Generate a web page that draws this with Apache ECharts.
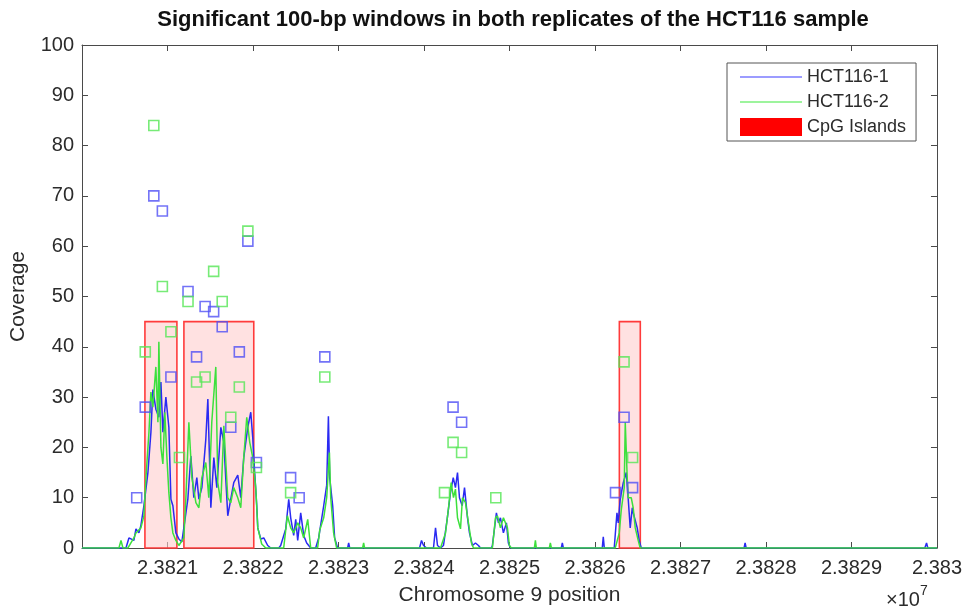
<!DOCTYPE html>
<html>
<head>
<meta charset="utf-8">
<title>HCT116 coverage</title>
<script src="https://cdn.jsdelivr.net/npm/echarts@6/dist/echarts.min.js"></script>
<style>
  html, body { margin: 0; padding: 0; background: #ffffff; }
  #chart { width: 965px; height: 611px; }
</style>
</head>
<body>
<div id="chart"></div>
<script>
// Axis settings (chromosome 9 position in bp, coverage in reads)
const xMin = 23820000;
const xMax = 23830000;
const xStep = 1000;
const yTicks = [0, 10, 20, 30, 40, 50, 60, 70, 80, 90, 100];

// CpG islands on the region
const cpgStart = [23820736, 23821192, 23826285];
const cpgEnd = [23821110, 23822009, 23826530];
const cpgHeight = [45, 45, 45];

// Per-position coverage, replicate HCT116-1
const hct1Pos = [
  23820000, 23820514, 23820549, 23820607, 23820631, 23820666, 23820689, 23820724,
  23820771, 23820806, 23820829, 23820864, 23820899, 23820923, 23820946, 23820981,
  23821016, 23821040, 23821063, 23821098, 23821133, 23821168, 23821191, 23821238,
  23821273, 23821308, 23821343, 23821367, 23821402, 23821448, 23821472, 23821507,
  23821542, 23821577, 23821624, 23821659, 23821705, 23821740, 23821775, 23821822,
  23821857, 23821892, 23821939, 23821974, 23821997, 23822009, 23822044, 23822056,
  23822091, 23822126, 23822172, 23822208, 23822301, 23822324, 23822383, 23822418,
  23822441, 23822476, 23822500, 23822523, 23822558, 23822593, 23822628, 23822675,
  23822733, 23822768, 23822827, 23822862, 23822882, 23822897, 23822932, 23822955,
  23822990, 23823107, 23823119, 23823131, 23823948, 23823971, 23823995, 23824030,
  23824111, 23824135, 23824158, 23824193, 23824228, 23824271, 23824310, 23824342,
  23824368, 23824392, 23824415, 23824447, 23824474, 23824509, 23824532, 23824567,
  23824602, 23824637, 23824661, 23824790, 23824800, 23824847, 23824871, 23824894,
  23824929, 23824964, 23824987, 23825011, 23825606, 23825618, 23825630, 23826085,
  23826097, 23826109, 23826225, 23826257, 23826272, 23826295, 23826331, 23826366,
  23826389, 23826412, 23826436, 23826447, 23826494, 23826517, 23826541, 23827744,
  23827756, 23827768, 23829858, 23829878, 23829893, 23830000
];
const hct1Cov = [
  0, 0, 2, 1.5, 3.8, 3, 4.5, 8.4,
  15, 23, 31.5, 27.6, 26, 33, 23, 30,
  24, 9.7, 8.4, 3, 1.8, 1.2, 1.5, 9.7,
  18.3, 10, 14, 9.7, 12, 21.6, 29.6, 8,
  18, 12, 24, 21, 6.4, 9.7, 13, 14.5,
  10, 18, 24, 27, 22, 18, 8.4, 4,
  1.8, 2, 0.5, 0, 0, 0.5, 3.8, 9.7,
  6, 2.5, 5.7, 1.5, 7, 2.5, 1, 0,
  0, 2, 8.4, 12.5, 26.2, 14, 8.4, 2,
  0, 0, 1, 0, 0, 1.5, 0.5, 0,
  0, 4, 0.5, 0, 0.5, 5.7, 11, 14,
  12, 15, 10, 8.4, 12, 6, 3, 0.5,
  1, 0.5, 0, 0, 0.5, 7, 5, 6,
  3, 5, 1, 0, 0, 1, 0, 0,
  2.2, 0, 0, 7, 5, 9.7, 13, 15,
  9.7, 4, 8, 7, 4, 1.5, 0, 0,
  1, 0, 0, 1, 0, 0
];

// Per-position coverage, replicate HCT116-2
const hct2Pos = [
  23820000, 23820432, 23820456, 23820479, 23820537, 23820572, 23820607, 23820631,
  23820689, 23820724, 23820748, 23820783, 23820806, 23820829, 23820864, 23820888,
  23820899, 23820923, 23820946, 23820969, 23820993, 23821016, 23821040, 23821063,
  23821098, 23821133, 23821191, 23821215, 23821250, 23821285, 23821332, 23821367,
  23821402, 23821448, 23821483, 23821518, 23821565, 23821588, 23821624, 23821659,
  23821705, 23821740, 23821775, 23821822, 23821857, 23821892, 23821927, 23821962,
  23821997, 23822032, 23822056, 23822102, 23822149, 23822359, 23822402, 23822441,
  23822476, 23822523, 23822558, 23822593, 23822640, 23822675, 23822756, 23822780,
  23822827, 23822862, 23822894, 23822909, 23822943, 23822978, 23823282, 23823294,
  23823305, 23824193, 23824252, 23824287, 23824318, 23824345, 23824368, 23824392,
  23824427, 23824450, 23824485, 23824520, 23824555, 23824579, 23824800, 23824836,
  23824859, 23824894, 23824929, 23824952, 23824976, 23824999, 23825022, 23825291,
  23825303, 23825314, 23825466, 23825478, 23825490, 23826237, 23826284, 23826307,
  23826342, 23826354, 23826377, 23826389, 23826424, 23826447, 23826471, 23826506,
  23826529, 23830000
];
const hct2Cov = [
  0, 0, 1.5, 0, 0, 1, 2, 3,
  4, 6.4, 14, 23, 31, 28, 36, 25,
  41, 20, 16.7, 27, 18, 11, 6, 3,
  1.5, 0.5, 2, 10, 25, 14, 9, 8,
  14, 17, 10, 25, 36, 13, 9, 24.3,
  10, 9, 12, 10, 8, 18, 26, 21,
  18, 12, 4, 0.8, 0, 0, 6.4, 4,
  3, 5, 4, 2, 5.7, 0, 0, 3.5,
  6, 10, 19, 10, 3, 0, 0, 1,
  0, 0, 3, 8, 13, 10, 11.7, 6,
  3.8, 10, 9, 5, 1, 0, 0, 6,
  6.4, 4, 6, 6, 4, 0.5, 0, 0,
  1.5, 0, 0, 1, 0, 0, 3, 7.5,
  12, 25, 14, 10, 10, 8, 4, 1.5,
  0, 0
];

// Significant 100-bp windows (window centre, window coverage)
const win1Pos = [
  23820640, 23820740, 23820840, 23820940, 23821040, 23821240, 23821340, 23821440,
  23821540, 23821640, 23821740, 23821840, 23821940, 23822040, 23822440, 23822540,
  23822840, 23824340, 23824440, 23826240, 23826340, 23826440
];
const win1Cov = [
  10, 28, 70, 67, 34, 51, 38, 48,
  47, 44, 24, 39, 61, 17, 14, 10,
  38, 28, 25, 11, 26, 12
];
const win2Pos = [
  23820740, 23820840, 23820940, 23821040, 23821140, 23821240, 23821340, 23821440,
  23821540, 23821640, 23821740, 23821840, 23821940, 23822040, 23822440, 23822840,
  23824240, 23824340, 23824440, 23824840, 23826340, 23826440
];
const win2Cov = [
  39, 84, 52, 43, 18, 49, 33, 34,
  55, 49, 26, 32, 63, 16, 11, 34,
  11, 21, 19, 10, 37, 18
];

const zip = (a, b) => a.map((v, i) => [v, b[i]]);

const FONT = '"Liberation Sans", Arial, Helvetica, sans-serif';
const AXIS_COLOR = '#4a4a4a';
const TEXT_COLOR = '#2b2b2b';
const BLUE = '#2a2af2';
const GREEN = '#3ce03c';
// thin horizontal bar used as the legend mark of a line
const LINE_ICON = 'path://M0,0 L62,0 L62,1.6 L0,1.6 Z';

function xLabel(v) {
  if (v === xMin) return '';
  return String(parseFloat((v / 1e7).toFixed(4)));
}

const chart = echarts.init(document.getElementById('chart'), null, { renderer: 'canvas' });

const boxAxis = (extra) => Object.assign({
  type: 'value',
  axisLine: { show: true, onZero: false, lineStyle: { color: AXIS_COLOR, width: 1 } },
  axisTick: { show: true, inside: true, length: 6, lineStyle: { color: AXIS_COLOR } },
  splitLine: { show: false }
}, extra);

const option = {
  backgroundColor: '#ffffff',
  animation: false,
  title: {
    text: 'Significant 100-bp windows in both replicates of the HCT116 sample',
    left: 508,
    textAlign: 'center',
    top: 4,
    textStyle: { fontFamily: FONT, fontWeight: 'bold', fontSize: 22, color: '#111' }
  },
  legend: {
    orient: 'vertical',
    left: 727,
    top: 63,
    padding: [5, 10, 5, 13],
    itemGap: 7,
    itemWidth: 62,
    itemHeight: 18,
    symbolKeepAspect: true,
    backgroundColor: '#ffffff',
    borderColor: '#555',
    borderWidth: 1,
    borderRadius: 0,
    data: [
      { name: 'HCT116-1', icon: LINE_ICON, itemStyle: { color: '#7b7bff' } },
      { name: 'HCT116-2', icon: LINE_ICON, itemStyle: { color: '#7cf07c' } },
      { name: 'CpG Islands', icon: 'rect' }
    ],
    textStyle: { fontFamily: FONT, fontSize: 18, color: TEXT_COLOR }
  },
  grid: { left: 81, right: 28, top: 45, bottom: 62, containLabel: false },
  xAxis: [
    boxAxis({
      min: xMin,
      max: xMax,
      interval: xStep,
      name: 'Chromosome 9 position',
      nameLocation: 'middle',
      nameGap: 37,
      nameTextStyle: { fontFamily: FONT, fontSize: 21, color: TEXT_COLOR },
      axisLabel: { formatter: xLabel, margin: 10, fontFamily: FONT, fontSize: 20, color: TEXT_COLOR }
    }),
    boxAxis({
      position: 'top',
      min: xMin,
      max: xMax,
      interval: xStep,
      axisLabel: { show: false }
    })
  ],
  yAxis: [
    boxAxis({
      min: yTicks[0],
      max: yTicks[yTicks.length - 1],
      interval: yTicks[1] - yTicks[0],
      name: 'Coverage',
      nameLocation: 'middle',
      nameGap: 53,
      nameRotate: 90,
      nameTextStyle: { fontFamily: FONT, fontSize: 21, color: TEXT_COLOR },
      axisLabel: { margin: 8, fontFamily: FONT, fontSize: 20, color: TEXT_COLOR }
    }),
    boxAxis({
      position: 'right',
      min: yTicks[0],
      max: yTicks[yTicks.length - 1],
      interval: yTicks[1] - yTicks[0],
      axisLabel: { show: false }
    })
  ],
  graphic: [
    {
      type: 'text',
      left: 886,
      top: 590,
      style: { text: '×10', fontFamily: FONT, fontSize: 20, fill: TEXT_COLOR }
    },
    {
      type: 'text',
      left: 920,
      top: 584,
      style: { text: '7', fontFamily: FONT, fontSize: 14, fill: TEXT_COLOR }
    }
  ],
  series: [
    {
      name: 'CpG Islands',
      type: 'custom',
      itemStyle: { color: '#ff0000' },
      data: cpgStart.map((s, i) => [s, cpgEnd[i], cpgHeight[i]]),
      encode: { x: [0, 1], y: 2 },
      renderItem: function (params, api) {
        const p0 = api.coord([api.value(0), api.value(2)]);
        const p1 = api.coord([api.value(1), 0]);
        return {
          type: 'rect',
          shape: { x: p0[0], y: p0[1], width: p1[0] - p0[0], height: p1[1] - p0[1] },
          style: { fill: 'rgba(255, 205, 205, 0.6)', stroke: '#ff3b3b', lineWidth: 1.6 }
        };
      },
      z: 1
    },
    {
      name: 'HCT116-1',
      type: 'line',
      data: zip(hct1Pos, hct1Cov),
      showSymbol: false,
      symbol: 'none',
      color: BLUE,
      lineStyle: { width: 1.5, color: BLUE },
      z: 3
    },
    {
      name: 'HCT116-2',
      type: 'line',
      data: zip(hct2Pos, hct2Cov),
      showSymbol: false,
      symbol: 'none',
      color: GREEN,
      lineStyle: { width: 1.5, color: GREEN },
      z: 4
    },
    {
      name: 'HCT116-1 windows',
      type: 'scatter',
      data: zip(win1Pos, win1Cov),
      symbol: 'rect',
      symbolSize: 10,
      itemStyle: { color: 'rgba(0,0,0,0)', borderColor: '#5050f5', borderWidth: 1.6 },
      z: 5
    },
    {
      name: 'HCT116-2 windows',
      type: 'scatter',
      data: zip(win2Pos, win2Cov),
      symbol: 'rect',
      symbolSize: 10,
      itemStyle: { color: 'rgba(0,0,0,0)', borderColor: '#55e655', borderWidth: 1.6 },
      z: 5
    }
  ]
};

chart.setOption(option);
</script>
</body>
</html>
